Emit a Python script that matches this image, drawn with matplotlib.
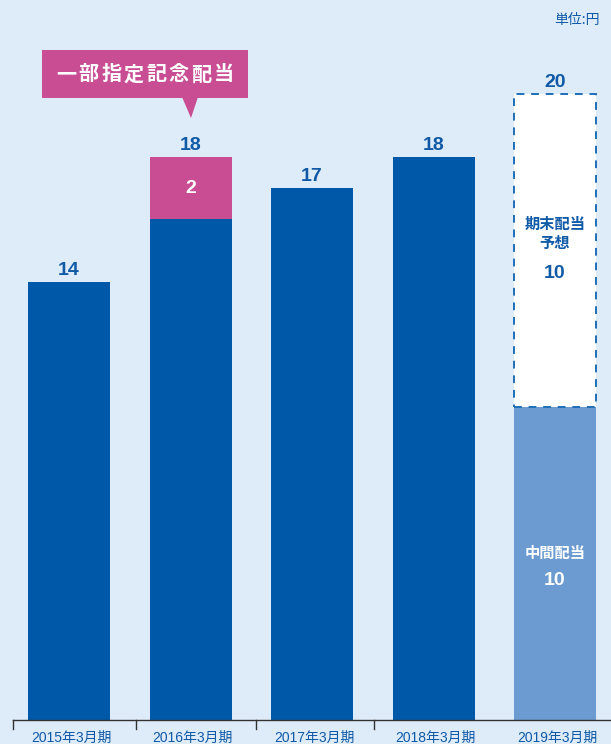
import matplotlib
matplotlib.use('Agg')
import matplotlib.pyplot as plt
from matplotlib.patches import Rectangle, Polygon

plt.rcParams['font.family'] = ['Liberation Sans', 'Noto Sans CJK JP']

# data
years = ['2015年3月期', '2016年3月期', '2017年3月期', '2018年3月期', '2019年3月期']
ordinary = [14, 16, 17, 18, 10]        # dark blue part (2019: 中間配当)
commemorative = [0, 2, 0, 0, 0]        # 一部指定記念配当
forecast = [0, 0, 0, 0, 10]            # 期末配当予想 (dashed)
totals = [14, 18, 17, 18, 20]
tick_bounds = [-0.46, 0.55, 1.54, 2.51]

BG = '#DEECF9'
DARK = '#0059A8'
LIGHT = '#6B9BD0'
PINK = '#C84D93'
TXT = '#1059A6'

W, H = 611, 744
fig = plt.figure(figsize=(W / 100, H / 100), dpi=100, facecolor=BG)
base_px = 720
ax = fig.add_axes([0, (H - base_px) / H, 1, base_px / H])
ax.set_facecolor(BG)
px_per_unit = 31.29
step = 121.5
ax.set_xlim(-69 / step, (W - 69) / step)
ax.set_ylim(0, base_px / px_per_unit)
ax.axis('off')

width = 82 / step
x = list(range(len(years)))

for i in x:
    if i == 4:
        ax.bar(i, ordinary[i], width, color=LIGHT, zorder=2)
        ax.add_patch(Rectangle((i - width / 2, ordinary[i]), width, forecast[i],
                               facecolor='white', edgecolor='#1E6FB8', lw=1.4,
                               ls=(0, (4, 3.5)), zorder=2))
    else:
        ax.bar(i, ordinary[i], width, color=DARK, zorder=2)
        if commemorative[i]:
            ax.bar(i, commemorative[i], width, bottom=ordinary[i], color=PINK, zorder=2)
            ax.text(i, ordinary[i] + commemorative[i] / 2, str(commemorative[i]),
                    color='white', fontsize=14, fontweight='bold',
                    ha='center', va='center', zorder=3)
    ax.text(i, totals[i] + 0.23, str(totals[i]),
            color=TXT, fontsize=14, fontweight='bold', ha='center', va='baseline',
            zorder=3)

# 2019 labels
ax.text(4, 15.55, '期末配当\n予想', color=TXT, fontsize=11, fontweight='bold',
        ha='center', va='center', linespacing=1.25, family='Noto Sans CJK JP')
ax.text(4, 14.28, '10', color=TXT, fontsize=14, fontweight='bold', ha='center', va='center')
ax.text(4, 5.33, '中間配当', color='white', fontsize=11, fontweight='bold',
        ha='center', va='center', family='Noto Sans CJK JP')
ax.text(4, 4.47, '10', color='white', fontsize=14, fontweight='bold', ha='center', va='center')

# axis line and ticks
fig.add_artist(plt.Line2D([13 / W, 1], [(H - 720) / H] * 2, color='#333333', lw=1))
for tb in tick_bounds:
    px = 69 + tb * step
    fig.add_artist(plt.Line2D([px / W] * 2, [(H - 720) / H, (H - 729) / H],
                              color='#333333', lw=1))
for i, lab in enumerate(years):
    fig.text((69 + i * step + 2) / W, (H - 738) / H, lab, color=TXT,
             fontsize=10, ha='center', va='center')

# callout
fig.add_artist(Rectangle((42 / W, (H - 98) / H), 206 / W, 48 / H,
                         facecolor=PINK, edgecolor='none', transform=fig.transFigure))
fig.add_artist(Polygon([(182 / W, (H - 97) / H), (198 / W, (H - 97) / H),
                        (191 / W, (H - 118) / H)], closed=True,
                       facecolor=PINK, edgecolor='none', transform=fig.transFigure))
callout = '一部指定記念配当'
for k, ch in enumerate(callout):
    fig.text((66 + k * 22.6) / W, (H - 74) / H, ch, color='white', fontsize=14.5,
             fontweight='bold', ha='center', va='center', family='Noto Sans CJK JP')

fig.text(600 / W, (H - 20) / H, '単位:円', color=TXT, fontsize=10, ha='right',
         va='center', family='Noto Sans CJK JP')

fig.savefig('out.png', dpi=100, facecolor=BG)
